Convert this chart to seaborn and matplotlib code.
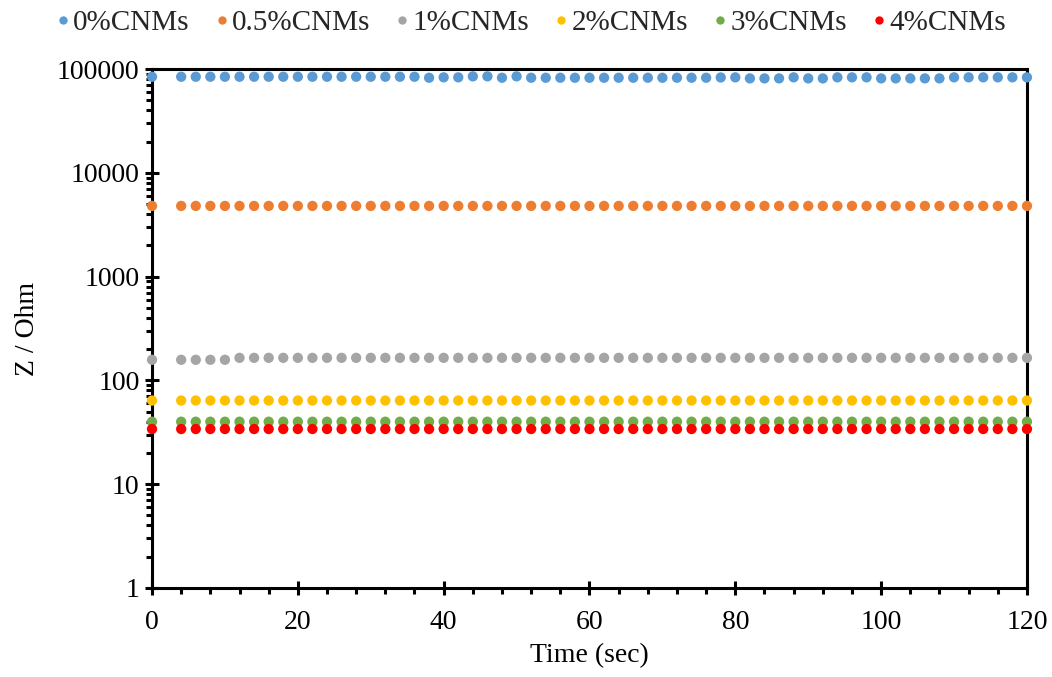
import numpy as np
import pandas as pd
import matplotlib
matplotlib.use("Agg")
import matplotlib.pyplot as plt
import matplotlib.ticker as mticker
import seaborn as sns

# Sampling times (s)
time_s = [0] + list(range(4, 121, 2))

# Impedance readings (Ohm) for each CNM loading
z_0 = ([84300] * 18
       + [82450, 83200, 83200, 85050, 85050, 82450, 85050]
       + [82450] * 13
       + [83000, 83200, 81300, 81300, 81300, 83200, 81300, 81300,
          83200, 83200, 83200, 81300, 81300, 81300, 81300, 81300,
          83200, 83200, 83200, 83200, 83200, 83200])
z_05 = [4800] * 60
z_1 = [158] * 5 + [165] * 55
z_2 = [64] * 60
z_3 = [40] * 60
z_4 = [34] * 60

labels = ["0%CNMs", "0.5%CNMs", "1%CNMs", "2%CNMs", "3%CNMs", "4%CNMs"]
colors = ["#5B9BD5", "#ED7D31", "#A5A5A5", "#FFC000", "#70AD47", "#FF0000"]
series = [z_0, z_05, z_1, z_2, z_3, z_4]

frames = [pd.DataFrame({"Time": time_s, "Z": vals, "Sample": lab})
          for lab, vals in zip(labels, series)]
df = pd.concat(frames, ignore_index=True)

sns.set_theme(style="white")
plt.rcParams["font.family"] = ["Liberation Serif", "DejaVu Serif"]
plt.rcParams["mathtext.fontset"] = "stix"

FS = 20

fig = plt.figure(figsize=(10.52, 6.77), dpi=100)
ax = fig.add_axes([0.1445, 0.1315, 0.9762 - 0.1445, 0.898 - 0.1315])

sns.scatterplot(data=df, x="Time", y="Z", hue="Sample", palette=colors,
                hue_order=labels, s=55, linewidth=0, ax=ax, legend=False,
                clip_on=False, zorder=3)

ax.set_yscale("log")
ax.set_ylim(1, 100000)
ax.set_xlim(0, 120)
ax.set_xticks(range(0, 121, 20))
ax.xaxis.set_minor_locator(mticker.MultipleLocator(4))
ax.set_yticks([1, 10, 100, 1000, 10000, 100000])
ax.yaxis.set_major_formatter(mticker.FuncFormatter(lambda v, p: f"{int(round(v))}"))
ax.yaxis.set_minor_locator(mticker.LogLocator(base=10, subs=np.arange(2, 10), numticks=20))
ax.yaxis.set_minor_formatter(mticker.NullFormatter())

for side in ["left", "bottom", "top", "right"]:
    ax.spines[side].set_visible(True)
    ax.spines[side].set_color("black")
    ax.spines[side].set_linewidth(2.2)

ax.tick_params(axis="both", which="both", bottom=True, left=True,
               top=False, right=False)
ax.tick_params(axis="both", which="major", direction="inout", length=10,
               width=2.2, color="black", labelsize=FS, labelcolor="black", pad=4)
ax.tick_params(axis="both", which="minor", direction="out", length=4,
               width=2.2, color="black")
ax.tick_params(axis="x", which="major", pad=11)

ax.set_xlabel("Time (sec)", fontsize=FS, color="black", labelpad=6)
ax.set_ylabel("Z / Ohm", fontsize=FS, color="black", labelpad=12)

handles = [plt.Line2D([], [], marker="o", linestyle="", markersize=6,
                      markerfacecolor=c, markeredgewidth=0) for c in colors]
fig.legend(handles, labels, loc="upper center", bbox_to_anchor=(0.505, 1.025),
           ncol=6, frameon=False, fontsize=21, handletextpad=0.15,
           columnspacing=0.9, handlelength=0.4)

fig.savefig("out.png", dpi=100, facecolor="white")
